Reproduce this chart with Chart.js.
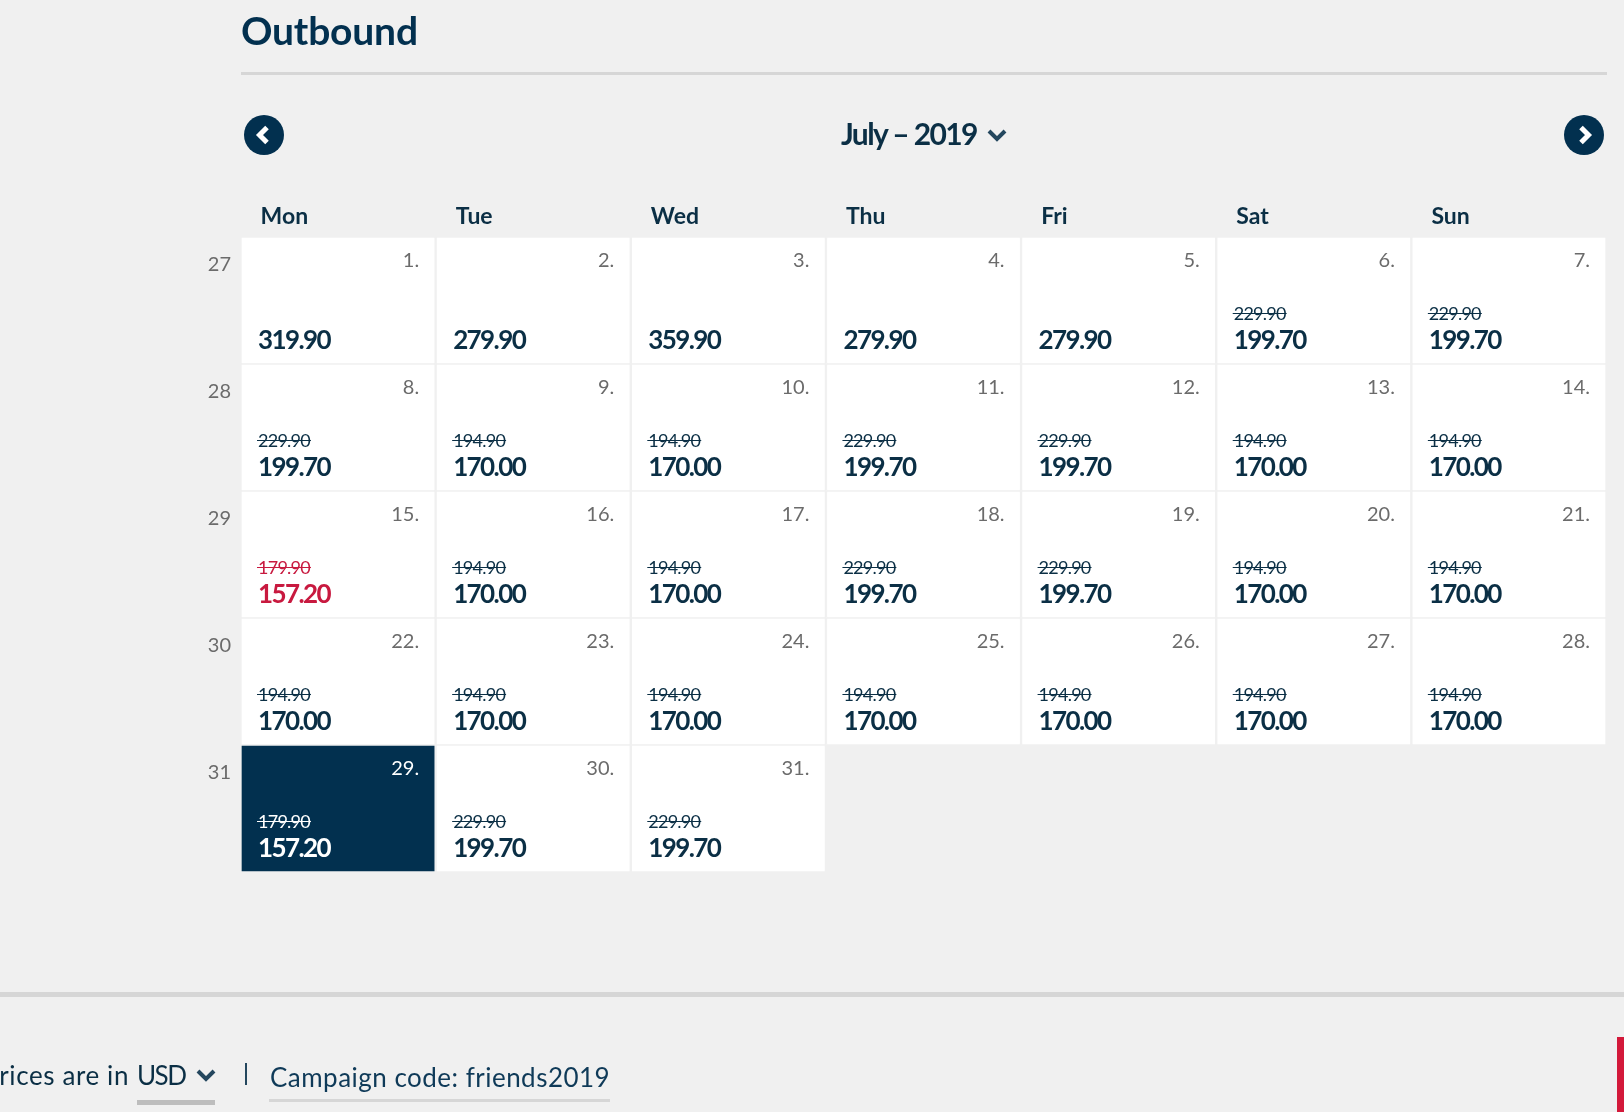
<!DOCTYPE html>
<html>
<head>
<meta charset="utf-8">
<title>Outbound</title>
<script src="https://cdn.jsdelivr.net/npm/chart.js@4"></script>
<style>
  html, body { margin: 0; padding: 0; background: #f0f0f0; overflow: hidden; }
  body { width: 1624px; height: 1112px; position: relative; font-family: Lato, sans-serif; color: #0b2f45; }
  canvas { position: absolute; left: 0; top: 0; }
  .abs { position: absolute; white-space: nowrap; }
  .rule { position: absolute; background: #d6d6d6; }
</style>
</head>
<body>
<canvas id="calendar" width="1624" height="1112"></canvas>

<div class="abs" style="left:241px;top:7px;font-size:39px;font-weight:700;color:#02304f;letter-spacing:-.2px">Outbound</div>
<div class="rule" style="left:241px;top:72px;width:1366px;height:3px"></div>

<svg class="abs" style="left:244px;top:115px" width="40" height="40" viewBox="0 0 40 40">
  <circle cx="20" cy="20" r="20" fill="#02304f"/>
  <path d="M23 12.5 L15.5 20 L23 27.5" fill="none" stroke="#fff" stroke-width="5"/>
</svg>
<svg class="abs" style="left:1564px;top:115px" width="40" height="40" viewBox="0 0 40 40">
  <circle cx="20" cy="20" r="20" fill="#02304f"/>
  <path d="M17 12.5 L24.5 20 L17 27.5" fill="none" stroke="#fff" stroke-width="5"/>
</svg>

<div class="abs" style="left:841px;top:115px;font-size:30px;font-weight:700;letter-spacing:-1.6px">July – 2019</div>
<svg class="abs" style="left:987px;top:129px" width="20" height="13" viewBox="0 0 20 13">
  <path d="M2 2 L10 10 L18 2" fill="none" stroke="#24475e" stroke-width="4"/>
</svg>

<div class="rule" style="left:0;top:992px;width:1624px;height:5px"></div>
<div class="abs" style="right:1495px;top:1059px;font-size:26px;letter-spacing:.6px">Prices are in</div>
<div class="abs" style="left:137px;top:1059px;font-size:26px;letter-spacing:-1.5px">USD</div>
<svg class="abs" style="left:196px;top:1069px" width="20" height="13" viewBox="0 0 20 13">
  <path d="M2 2 L10 10 L18 2" fill="none" stroke="#24475e" stroke-width="4"/>
</svg>
<div class="rule" style="left:137px;top:1100px;width:78px;height:5px;background:#bdbdbd"></div>
<div class="rule" style="left:245px;top:1063px;width:2px;height:22px;background:#24475e"></div>
<div class="abs" style="left:270px;top:1061px;font-size:26px;letter-spacing:.48px;color:#0f3a58">Campaign code: friends2019</div>
<div class="rule" style="left:269px;top:1099px;width:341px;height:3px"></div>
<div class="rule" style="left:1617px;top:1037px;width:7px;height:75px;background:#d3193a"></div>

<script>
const weekdays = ["Mon", "Tue", "Wed", "Thu", "Fri", "Sat", "Sun"];
const weeks = [27, 28, 29, 30, 31];
const prices = [
  "319.90", "279.90", "359.90", "279.90", "279.90", "199.70", "199.70",
  "199.70", "170.00", "170.00", "199.70", "199.70", "170.00", "170.00",
  "157.20", "170.00", "170.00", "199.70", "199.70", "170.00", "170.00",
  "170.00", "170.00", "170.00", "170.00", "170.00", "170.00", "170.00",
  "157.20", "199.70", "199.70",
];
const oldPrices = [
  null, null, null, null, null, "229.90", "229.90",
  "229.90", "194.90", "194.90", "229.90", "229.90", "194.90", "194.90",
  "179.90", "194.90", "194.90", "229.90", "229.90", "194.90", "194.90",
  "194.90", "194.90", "194.90", "194.90", "194.90", "194.90", "194.90",
  "179.90", "229.90", "229.90",
];
const selectedDay = 29;
const cheapestDay = 15;

const NAVY = "#02304f";
const INK = "#0b2f45";
const RED = "#c8193f";
const GREY = "#6b6b6b";
const FONT = "Lato, sans-serif";

// July 2019 starts on a Monday, so every day falls straight into the grid
const cells = prices.map((_, i) => ({
  x: weekdays[i % 7],
  y: [Math.floor(i / 7), Math.floor(i / 7) + 1],
}));

// Day numbers and prices are written inside the bars
const cellText = {
  id: "cellText",
  afterDatasetsDraw(chart) {
    const ctx = chart.ctx;
    chart.getDatasetMeta(0).data.forEach((bar, i) => {
      const day = i + 1;
      const left = bar.x - bar.width / 2;
      const right = bar.x + bar.width / 2;
      const top = Math.min(bar.y, bar.base);
      let main = INK;
      if (day === selectedDay) main = "#ffffff";
      if (day === cheapestDay) main = RED;

      ctx.save();
      ctx.textBaseline = "middle";

      ctx.textAlign = "right";
      ctx.fillStyle = day === selectedDay ? "#ffffff" : GREY;
      ctx.font = "20px " + FONT;
      ctx.fillText(day + ".", right - 17, top + 24);

      ctx.textAlign = "left";
      if (oldPrices[i]) {
        ctx.font = "18px " + FONT;
        ctx.letterSpacing = "-0.75px";
        ctx.fillStyle = main;
        ctx.fillText(oldPrices[i], left + 17, top + 77);
        const w = ctx.measureText(oldPrices[i]).width;
        ctx.fillRect(left + 16, top + 76, w + 2, 1);
      }
      ctx.font = "700 26px " + FONT;
      ctx.letterSpacing = "-1.6px";
      ctx.fillStyle = main;
      ctx.fillText(prices[i], left + 17, top + 104);
      ctx.restore();
    });
  },
};

new Chart(document.getElementById("calendar"), {
  type: "bar",
  data: {
    labels: weekdays,
    datasets: [
      {
        data: cells,
        backgroundColor: prices.map((_, i) => (i + 1 === selectedDay ? NAVY : "#ffffff")),
        borderColor: "#f0f0f0",
        borderWidth: { left: 1, right: 2, top: 1, bottom: 1 },
        borderSkipped: false,
        categoryPercentage: 1,
        barPercentage: 1,
      },
    ],
  },
  options: {
    responsive: false,
    animation: false,
    devicePixelRatio: 1,
    layout: { padding: { right: 17, bottom: 240 } },
    plugins: { legend: { display: false }, tooltip: { enabled: false } },
    scales: {
      x: {
        position: "top",
        grid: { display: false, drawTicks: false },
        border: { display: false },
        afterFit(scale) { scale.height = 237; },
        ticks: {
          autoSkip: false,
          maxRotation: 0,
          align: "start",
          labelOffset: -78,
          padding: 7,
          color: INK,
          font: { family: FONT, size: 23, weight: "700" },
        },
      },
      y: {
        reverse: true,
        min: 0,
        max: weeks.length,
        grid: { display: false, drawTicks: false },
        border: { display: false },
        afterFit(scale) { scale.width = 241; },
        // week numbers sit near the top of their row
        afterBuildTicks(scale) { scale.ticks = weeks.map((_, i) => ({ value: i + 0.22 })); },
        ticks: {
          padding: 10,
          color: GREY,
          font: { family: FONT, size: 20 },
          callback(value) { return weeks[Math.floor(value)]; },
        },
      },
    },
  },
  plugins: [cellText],
});
</script>
</body>
</html>
